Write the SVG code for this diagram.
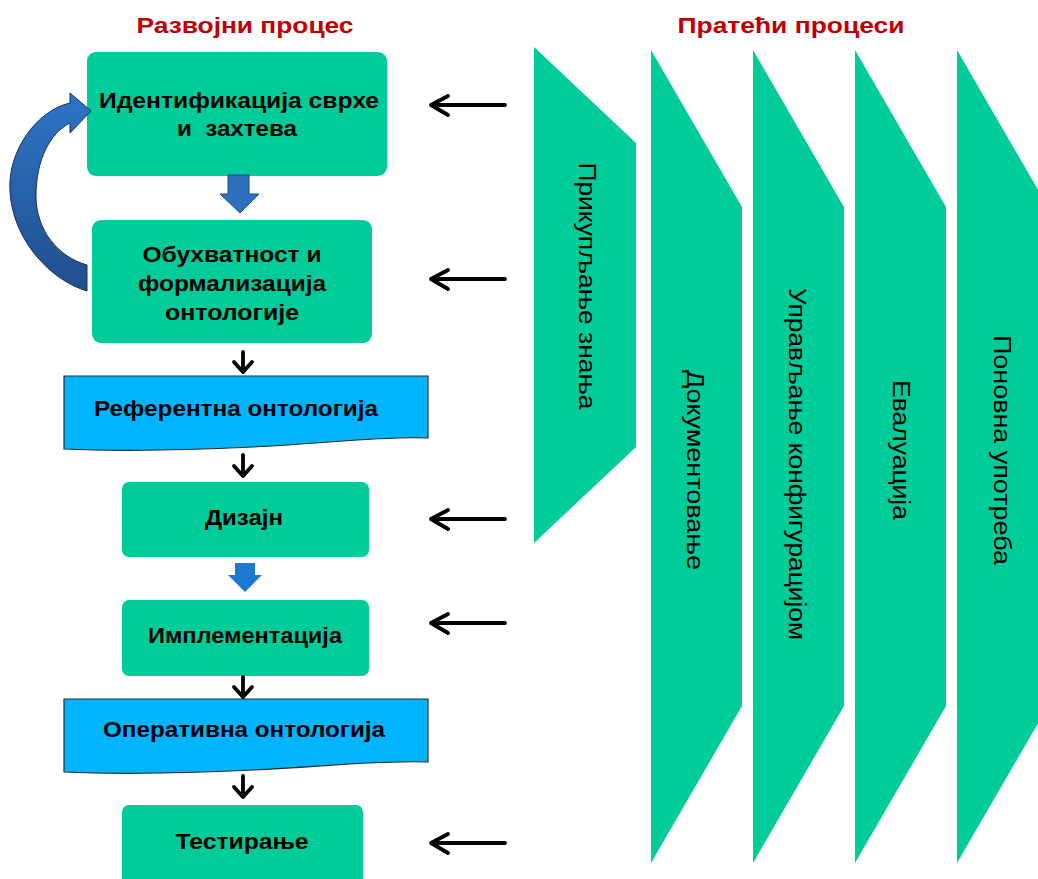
<svg xmlns="http://www.w3.org/2000/svg" width="1038" height="879" viewBox="0 0 1038 879">
  <defs>
    <style>
      .node { fill: #00CC99; }
      .doc { fill: #00B4FF; stroke: #2b2b2b; stroke-width: 1.2; }
      .phase { fill: #00CC99; }
      .lbl { font-family: "Liberation Sans", Arial, sans-serif; font-weight: bold; font-size: 22px; fill: #000; text-anchor: middle; white-space: pre; }
      .title { font-family: "Liberation Sans", Arial, sans-serif; font-weight: bold; font-size: 22px; fill: #C00000; text-anchor: middle; }
      .vlbl { font-family: "Liberation Sans", Arial, sans-serif; font-size: 24px; fill: #000; text-anchor: middle; }
      .blk { fill: none; stroke: #000; stroke-width: 3.8; stroke-linecap: round; stroke-linejoin: round; }
    </style>
    <linearGradient id="loopGrad" x1="0" y1="0" x2="0" y2="1">
      <stop offset="0" stop-color="#2E75C8"/>
      <stop offset="1" stop-color="#1F4E8C"/>
    </linearGradient>
  </defs>

  <rect width="1038" height="879" fill="#ffffff"/>

  <!-- headings -->
  <text class="title" x="245" y="33" textLength="217" lengthAdjust="spacingAndGlyphs">Развојни процес</text>
  <text class="title" x="791" y="33" textLength="227" lengthAdjust="spacingAndGlyphs">Пратећи процеси</text>

  <!-- supporting processes (right column) -->
  <g id="p-knowledge">
    <polygon class="phase" points="534,47 636,143 636,447 534,543"/>
    <text class="vlbl" transform="translate(579,286) rotate(90)" textLength="247" lengthAdjust="spacingAndGlyphs">Прикупљање знања</text>
  </g>
  <g id="p-documentation">
    <polygon class="phase" points="651,50 742,207 742,706 651,863"/>
    <text class="vlbl" transform="translate(687,470) rotate(90)" textLength="200" lengthAdjust="spacingAndGlyphs">Документовање</text>
  </g>
  <g id="p-configuration">
    <polygon class="phase" points="753,50 844,207 844,706 753,863"/>
    <text class="vlbl" transform="translate(789,464) rotate(90)" textLength="352" lengthAdjust="spacingAndGlyphs">Управљање конфигурацијом</text>
  </g>
  <g id="p-evaluation">
    <polygon class="phase" points="855,50 946,207 946,706 855,863"/>
    <text class="vlbl" transform="translate(893,450) rotate(90)" textLength="140" lengthAdjust="spacingAndGlyphs">Евалуација</text>
  </g>
  <g id="p-reuse">
    <polygon class="phase" points="957,50 1048,207 1048,706 957,863"/>
    <text class="vlbl" transform="translate(994,450) rotate(90)" textLength="230" lengthAdjust="spacingAndGlyphs">Поновна употреба</text>
  </g>

  <!-- development process (left column) -->
  <g id="n-purpose">
    <rect class="node" x="87" y="52" width="300" height="124" rx="9"/>
    <text class="lbl" x="239" y="108" textLength="280" lengthAdjust="spacingAndGlyphs">Идентификација сврхе</text>
    <text class="lbl" x="237" y="136" textLength="120" lengthAdjust="spacingAndGlyphs" xml:space="preserve">и  захтева</text>
  </g>
  <g id="n-formalization">
    <rect class="node" x="92" y="220" width="280" height="123" rx="9"/>
    <text class="lbl" x="232" y="262" textLength="179" lengthAdjust="spacingAndGlyphs">Обухватност и</text>
    <text class="lbl" x="232" y="291" textLength="188" lengthAdjust="spacingAndGlyphs">формализација</text>
    <text class="lbl" x="232" y="320" textLength="134" lengthAdjust="spacingAndGlyphs">онтологије</text>
  </g>
  <g id="n-reference">
    <path class="doc" d="M64,376 L428,376 L428,438 C380,436 320,444 253,447 C190,450 130,452 64,449 Z"/>
    <text class="lbl" x="236" y="416" textLength="284" lengthAdjust="spacingAndGlyphs">Референтна онтологија</text>
  </g>
  <g id="n-design">
    <rect class="node" x="122" y="482" width="247" height="75" rx="7"/>
    <text class="lbl" x="244" y="525" textLength="78" lengthAdjust="spacingAndGlyphs">Дизајн</text>
  </g>
  <g id="n-implementation">
    <rect class="node" x="122" y="600" width="247" height="76" rx="7"/>
    <text class="lbl" x="245" y="643" textLength="194" lengthAdjust="spacingAndGlyphs">Имплементација</text>
  </g>
  <g id="n-operational">
    <path class="doc" d="M64,699 L428,699 L428,762 C380,760 320,767 253,770 C190,773 130,775 64,772 Z"/>
    <text class="lbl" x="244" y="737" textLength="282" lengthAdjust="spacingAndGlyphs">Оперативна онтологија</text>
  </g>
  <g id="n-testing">
    <rect class="node" x="122" y="805" width="241" height="90" rx="7"/>
    <text class="lbl" x="242" y="849" textLength="133" lengthAdjust="spacingAndGlyphs">Тестирање</text>
  </g>

  <!-- connectors -->
  <g id="connectors">
    <!-- feedback loop back to the first step -->
    <path d="M91,111 L70,93 L70,103 C38,110 7,150 10,192 C13,240 50,280 87,291 L87,265 C58,257 36,230 36,196 C36,160 50,133 70,123 L70,133 Z" fill="url(#loopGrad)" stroke="#1a3050" stroke-width="1"/>

    <!-- block arrows -->
    <polygon points="228,175 249,175 249,194 259,194 240,213 220,194 228,194" fill="#2E70C0" stroke="#1F4E79" stroke-width="1"/>
    <polygon points="235,563 255,563 255,575 262,575 245,592 228,575 235,575" fill="#1F78D0"/>

    <!-- downward flow arrows -->
    <path class="blk" d="M243,352 V372 M234,362 L243,372 L252,362"/>
    <path class="blk" d="M243,455 V476 M234,466 L243,476 L252,466"/>
    <path class="blk" d="M243,677 V697 M234,687 L243,697 L252,687"/>
    <path class="blk" d="M243,776 V797 M234,787 L243,797 L252,787"/>

    <!-- inputs from supporting processes -->
    <path class="blk" d="M505,105 H431 M448,96 L431,105 L448,115"/>
    <path class="blk" d="M505,279 H431 M448,270 L431,279 L448,289"/>
    <path class="blk" d="M505,519 H431 M448,510 L431,519 L448,529"/>
    <path class="blk" d="M505,623 H431 M448,614 L431,623 L448,633"/>
    <path class="blk" d="M505,843 H431 M448,834 L431,843 L448,853"/>
  </g>
</svg>
